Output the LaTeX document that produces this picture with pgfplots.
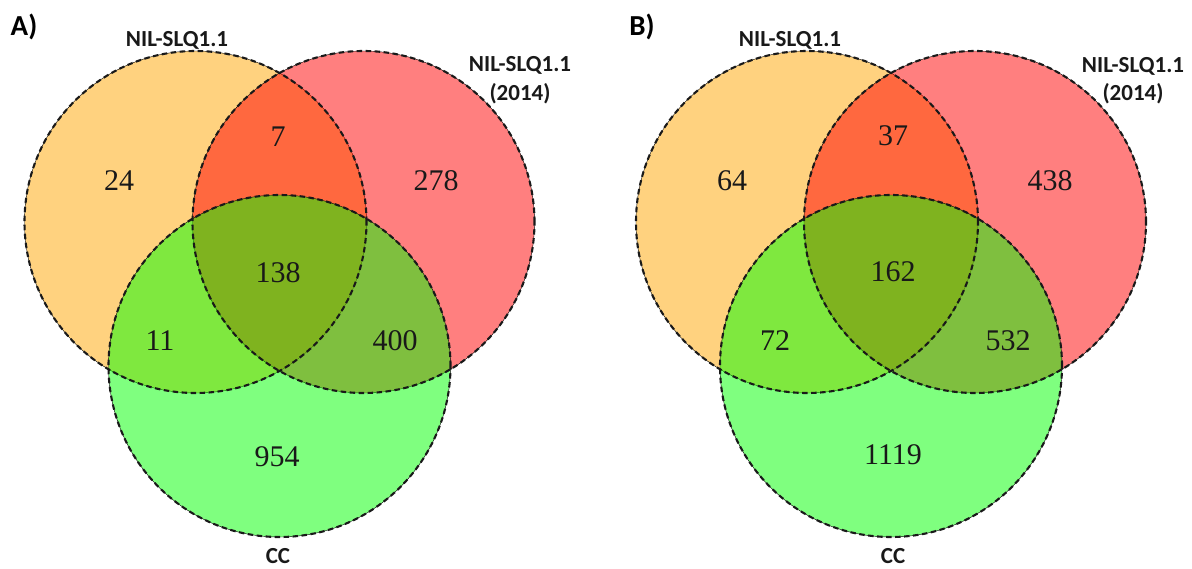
\documentclass[border=0pt]{standalone}
\usepackage{pgfplots}
\pgfplotsset{compat=1.18}
\usepackage{fontspec}
\setmainfont{Liberation Serif}
\newfontfamily\lab{Carlito}
\definecolor{vorange}{RGB}{255,165,0}
\definecolor{vred}{RGB}{255,0,0}
\definecolor{vgreen}{RGB}{0,255,0}
\definecolor{txt}{RGB}{25,25,25}
\begin{document}
\begin{tikzpicture}
\begin{axis}[
  scale only axis, width=1192pt, height=568pt,
  xmin=0, xmax=1192, ymin=0, ymax=568, y dir=reverse,
  hide axis, clip=false,
]
\path (rel axis cs:0,0) rectangle (rel axis cs:1,1);
% circle fills (50% opacity), drawn in order orange, red, green
\addplot[only marks, mark=*, mark size=171pt,
  mark options={draw=none, fill=vorange, fill opacity=0.5}]
  coordinates {(195.5,222) (807,222)};
\addplot[only marks, mark=*, mark size=171pt,
  mark options={draw=none, fill=vred, fill opacity=0.5}]
  coordinates {(363.5,222) (975,222)};
\addplot[only marks, mark=*, mark size=171pt,
  mark options={draw=none, fill=vgreen, fill opacity=0.5}]
  coordinates {(279.5,366) (891,366)};
% dashed outlines
\addplot[only marks, mark=o, mark size=171pt, line width=2.1pt,
  mark options={draw=black!90, line width=2.1pt, dash pattern=on 5.5pt off 3.5pt}]
  coordinates {(195.5,222) (807,222) (363.5,222) (975,222) (279.5,366) (891,366)};
% region counts
\addplot[draw=none, mark=none, nodes near coords, point meta=explicit symbolic,
  nodes near coords style={anchor=center, inner sep=0pt, text=txt,
    font=\fontsize{30}{32}\selectfont}]
  table[meta=label] {
x y label
278 137 7
119 181 24
436 181 278
278 273 138
160 341 11
395 341 400
277 457 954
893 136 37
732 181 64
1050 181 438
893 272 162
775 341 72
1008 341 532
893 455 1119
};
% set labels
\addplot[draw=none, mark=none, nodes near coords, point meta=explicit symbolic,
  nodes near coords style={anchor=center, inner sep=0pt, text=txt,
    font=\lab\bfseries\fontsize{23}{25}\selectfont}]
  table[meta=label] {
x y label
177 40 NIL-SLQ1.1
520 65 NIL-SLQ1.1
520 94 (2014)
278 556 CC
790 40 NIL-SLQ1.1
1133 66 NIL-SLQ1.1
1133 94 (2014)
893 556 CC
};
% panel letters
\addplot[draw=none, mark=none, nodes near coords, point meta=explicit symbolic,
  nodes near coords style={anchor=center, inner sep=0pt, text=black,
    font=\lab\bfseries\fontsize{29}{31}\selectfont}]
  table[meta=label] {
x y label
24 27 A)
642 27 B)
};
\end{axis}
\end{tikzpicture}
\end{document}
